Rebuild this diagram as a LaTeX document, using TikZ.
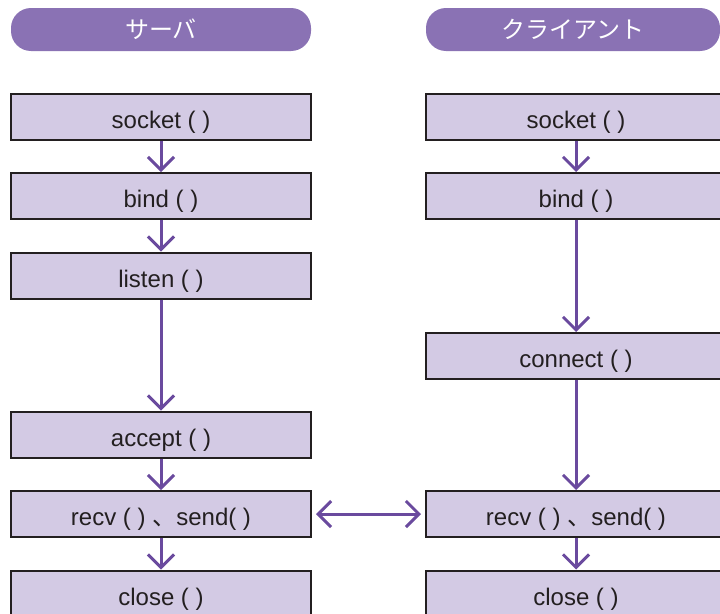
\documentclass[tikz,border=0pt]{standalone}
\usepackage{fontspec}
\setmainfont{Liberation Sans}
\newfontfamily\jpfont{Noto Sans CJK JP}
\usetikzlibrary{arrows.meta}
\definecolor{pill}{HTML}{8A72B4}
\definecolor{boxfill}{HTML}{D3CAE4}
\definecolor{boxline}{HTML}{231F20}
\definecolor{arrowc}{HTML}{6A4A9E}
\tikzset{
  x=1pt,y=-1pt,
  pillbox/.style={fill=pill,rounded corners=20pt,minimum height=43pt,inner sep=0pt,text=white,font=\jpfont\fontsize{24}{26}\selectfont},
  funcbox/.style={draw=boxline,line width=2pt,fill=boxfill,minimum width=300pt,minimum height=46pt,inner sep=0pt,text height=23pt,text depth=0pt,text=boxline,font=\fontsize{24}{26}\selectfont},
  tipv/.tip={Straight Barb[length=13pt,width=26pt,line width=3pt]},
  flow/.style={draw=arrowc,line width=3pt,-tipv},
  flowboth/.style={draw=arrowc,line width=3pt,tipv-tipv}
}
\begin{document}
\begin{tikzpicture}
\useasboundingbox (0,0) rectangle (720,613);
\clip (0,0) rectangle (720,613);
\fill[white] (0,0) rectangle (720,613);
% headers
\node[pillbox,minimum width=300pt] (hs) at (161,29.5) {サーバ};
\node[pillbox,minimum width=294pt] (hc) at (573,29.5) {クライアント};
% server
\node[funcbox] (s1) at (161,116.5) {socket ( )};
\node[funcbox] (s2) at (161,196) {bind ( )};
\node[funcbox] (s3) at (161,275.5) {listen ( )};
\node[funcbox] (s4) at (161,434.5) {accept ( )};
\node[funcbox] (s5) at (161,514) {recv ( ) {\jpfont 、}send( )};
\node[funcbox] (s6) at (161,593.5) {close ( )};
% client
\node[funcbox] (c1) at (576,116.5) {socket ( )};
\node[funcbox] (c2) at (576,196) {bind ( )};
\node[funcbox] (c3) at (576,356) {connect ( )};
\node[funcbox] (c5) at (576,514) {recv ( ) {\jpfont 、}send( )};
\node[funcbox] (c6) at (576,593.5) {close ( )};
% arrows
\draw[flow] (s1.south) -- (s2.north);
\draw[flow] (s2.south) -- (s3.north);
\draw[flow] (s3.south) -- (s4.north);
\draw[flow] (s4.south) -- (s5.north);
\draw[flow] (s5.south) -- (s6.north);
\draw[flow] (c1.south) -- (c2.north);
\draw[flow] (c2.south) -- (c3.north);
\draw[flow] (c3.south) -- (c5.north);
\draw[flow] (c5.south) -- (c6.north);
\draw[flowboth] ([xshift=4pt]s5.east) -- ([xshift=-4pt]c5.west);
\end{tikzpicture}
\end{document}
